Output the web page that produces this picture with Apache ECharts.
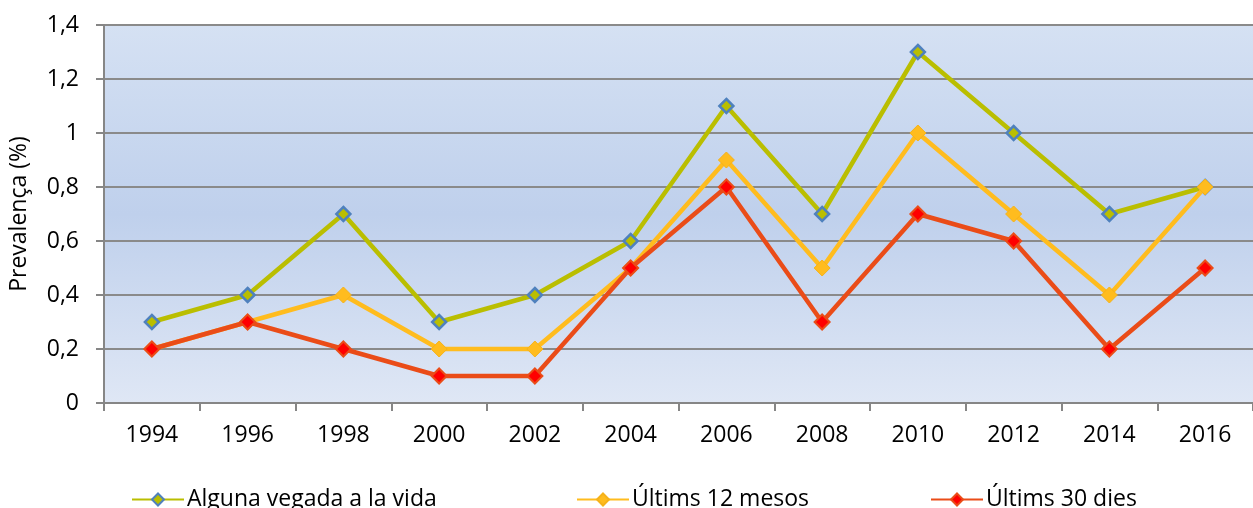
<!DOCTYPE html>
<html><head><meta charset="utf-8">
<script src="https://cdn.jsdelivr.net/npm/echarts@6/dist/echarts.min.js"></script>
<style>html,body{margin:0;padding:0;background:#fff}#c{width:1253px;height:508px}</style>
</head><body><div id="c"></div>
<script>
var years = ['1994','1996','1998','2000','2002','2004','2006','2008','2010','2012','2014','2016'];
var alguna = [0.3,0.4,0.7,0.3,0.4,0.6,1.1,0.7,1.3,1.0,0.7,0.8];
var ultims12 = [0.2,0.3,0.4,0.2,0.2,0.5,0.9,0.5,1.0,0.7,0.4,0.8];
var ultims30 = [0.2,0.3,0.2,0.1,0.1,0.5,0.8,0.3,0.7,0.6,0.2,0.5];
var names = ['Alguna vegada a la vida','Últims 12 mesos','Últims 30 dies'];
var yTicks = [0,0.2,0.4,0.6,0.8,1,1.2,1.4];

var FONT = 'Open Sans';
var chart = echarts.init(document.getElementById('c'));
function legend(name, left){
  return {data:[name], left:left, top:483, itemWidth:52, itemHeight:15, itemGap:0,
    textStyle:{fontFamily:FONT, fontSize:23, color:'#000', padding:[0,0,0,-2]}};
}
chart.setOption({
  animation:false,
  legend:[legend(names[0],126), legend(names[1],571), legend(names[2],925)],
  grid:{left:103, top:25, bottom:105, right:-8, show:true, borderWidth:0,
    backgroundColor:new echarts.graphic.LinearGradient(0,0,0,1,[
      {offset:0,color:'#d5e1f3'},{offset:0.5,color:'#bfd0ec'},{offset:1,color:'#dfe7f5'}])},
  xAxis:{type:'category', data:years, boundaryGap:true,
    axisLine:{lineStyle:{color:'#868686', width:2}},
    axisTick:{show:true, length:8, lineStyle:{color:'#868686', width:2}},
    axisLabel:{fontFamily:FONT, fontSize:23, color:'#000', margin:21}},
  yAxis:{type:'value', min:0, max:1.4, interval:0.2,
    name:'Prevalença (%)', nameLocation:'middle', nameGap:73, nameRotate:90,
    nameTextStyle:{fontFamily:FONT, fontSize:23, color:'#000'},
    axisLine:{show:true, lineStyle:{color:'#868686', width:2}},
    axisTick:{show:true, length:8, lineStyle:{color:'#868686', width:2}},
    splitLine:{lineStyle:{color:'#8a8a8a', width:2}},
    axisLabel:{fontFamily:FONT, fontSize:23, color:'#000', margin:25,
      formatter:function(v){return String(Math.round(v*10)/10).replace('.',',');}}},
  series:[
    {name:names[0], type:'line', data:alguna, symbol:'diamond', symbolSize:14,
      lineStyle:{color:'#babe00', width:4.5}, itemStyle:{color:'#babe00', borderColor:'#4f81bd', borderWidth:2.5}, z:2},
    {name:names[1], type:'line', data:ultims12, symbol:'diamond', symbolSize:16,
      lineStyle:{color:'#ffbc1e', width:4.5}, itemStyle:{color:'#ffbc1e', borderColor:'#f5b21a', borderWidth:1}, z:3},
    {name:names[2], type:'line', data:ultims30, symbol:'diamond', symbolSize:15,
      lineStyle:{color:'#ea4c18', width:4.5}, itemStyle:{color:'#ff0000', borderColor:'#ea4c18', borderWidth:2}, z:4}
  ]
});
</script></body></html>
